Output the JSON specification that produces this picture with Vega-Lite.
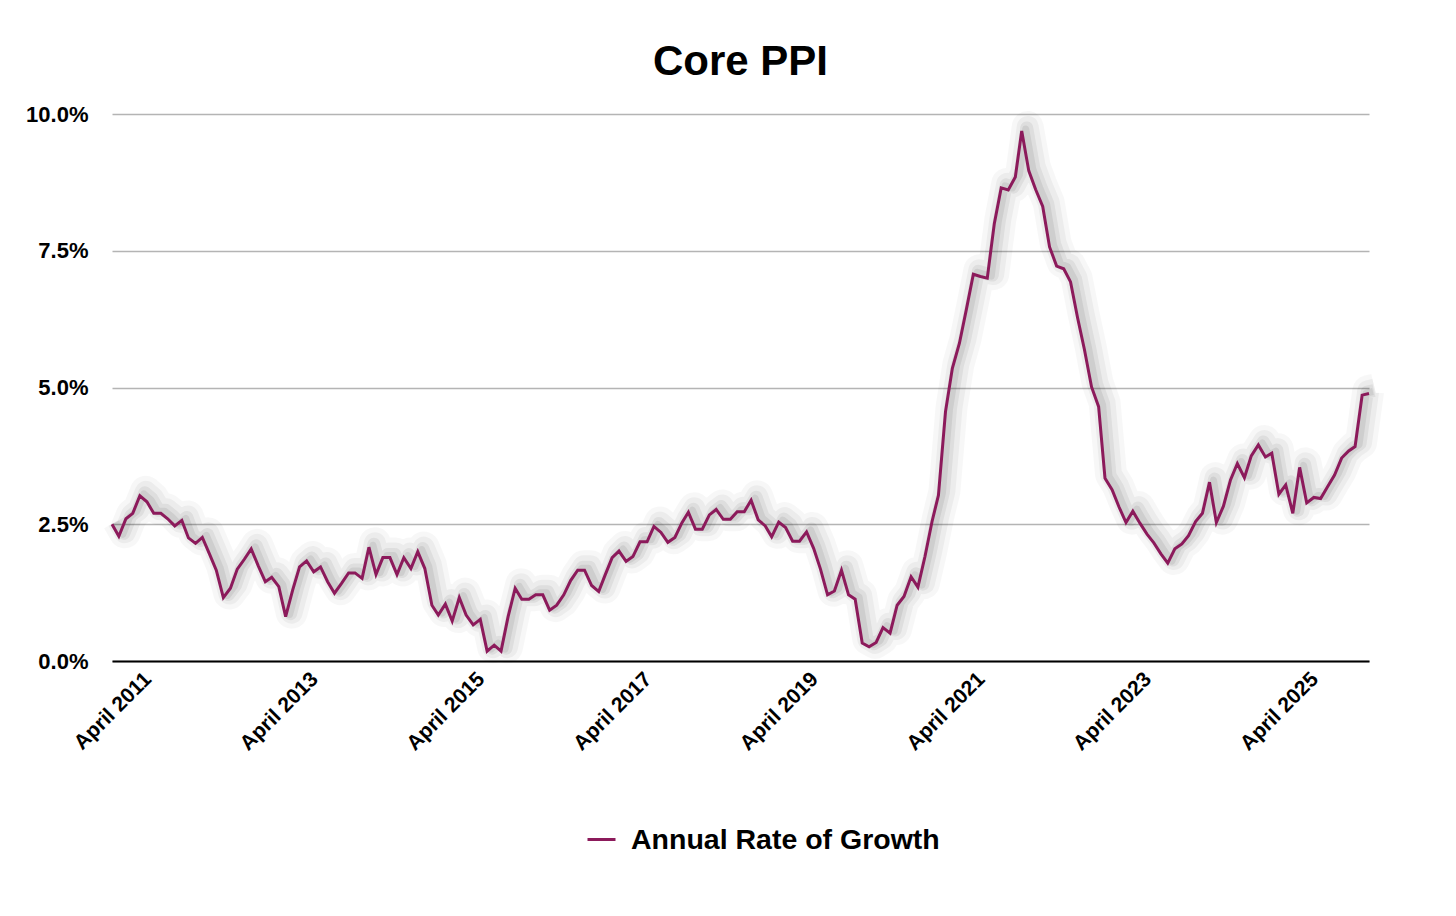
{
  "$schema": "https://vega.github.io/schema/vega-lite/v6.json",
  "width": 1257,
  "height": 547,
  "autosize": {"type": "none"},
  "padding": {"left": 112, "top": 114, "right": 87, "bottom": 255},
  "background": "white",
  "config": {
    "font": "Liberation Sans",
    "view": {"stroke": null}
  },
  "title": {
    "text": "Core PPI",
    "fontSize": 42,
    "fontWeight": "bold",
    "font": "Liberation Sans",
    "color": "black",
    "anchor": "middle",
    "offset": 19
  },
  "data": {
    "values": [
      {"date": "2011-04", "value": 2.50}, {"date": "2011-05", "value": 2.28}, {"date": "2011-06", "value": 2.60}, {"date": "2011-07", "value": 2.70}, {"date": "2011-08", "value": 3.02}, {"date": "2011-09", "value": 2.91}, {"date": "2011-10", "value": 2.70}, {"date": "2011-11", "value": 2.70}, {"date": "2011-12", "value": 2.60},
      {"date": "2012-01", "value": 2.47}, {"date": "2012-02", "value": 2.57}, {"date": "2012-03", "value": 2.25}, {"date": "2012-04", "value": 2.15}, {"date": "2012-05", "value": 2.26}, {"date": "2012-06", "value": 1.96}, {"date": "2012-07", "value": 1.66}, {"date": "2012-08", "value": 1.16}, {"date": "2012-09", "value": 1.33}, {"date": "2012-10", "value": 1.68}, {"date": "2012-11", "value": 1.86}, {"date": "2012-12", "value": 2.05},
      {"date": "2013-01", "value": 1.74}, {"date": "2013-02", "value": 1.45}, {"date": "2013-03", "value": 1.53}, {"date": "2013-04", "value": 1.36}, {"date": "2013-05", "value": 0.81}, {"date": "2013-06", "value": 1.30}, {"date": "2013-07", "value": 1.72}, {"date": "2013-08", "value": 1.83}, {"date": "2013-09", "value": 1.63}, {"date": "2013-10", "value": 1.72}, {"date": "2013-11", "value": 1.45}, {"date": "2013-12", "value": 1.24},
      {"date": "2014-01", "value": 1.42}, {"date": "2014-02", "value": 1.61}, {"date": "2014-03", "value": 1.61}, {"date": "2014-04", "value": 1.51}, {"date": "2014-05", "value": 2.08}, {"date": "2014-06", "value": 1.58}, {"date": "2014-07", "value": 1.89}, {"date": "2014-08", "value": 1.89}, {"date": "2014-09", "value": 1.58}, {"date": "2014-10", "value": 1.89}, {"date": "2014-11", "value": 1.69}, {"date": "2014-12", "value": 2.00},
      {"date": "2015-01", "value": 1.69}, {"date": "2015-02", "value": 1.02}, {"date": "2015-03", "value": 0.84}, {"date": "2015-04", "value": 1.04}, {"date": "2015-05", "value": 0.73}, {"date": "2015-06", "value": 1.16}, {"date": "2015-07", "value": 0.84}, {"date": "2015-08", "value": 0.66}, {"date": "2015-09", "value": 0.76}, {"date": "2015-10", "value": 0.18}, {"date": "2015-11", "value": 0.29}, {"date": "2015-12", "value": 0.18},
      {"date": "2016-01", "value": 0.81}, {"date": "2016-02", "value": 1.33}, {"date": "2016-03", "value": 1.13}, {"date": "2016-04", "value": 1.13}, {"date": "2016-05", "value": 1.21}, {"date": "2016-06", "value": 1.21}, {"date": "2016-07", "value": 0.93}, {"date": "2016-08", "value": 1.02}, {"date": "2016-09", "value": 1.21}, {"date": "2016-10", "value": 1.47}, {"date": "2016-11", "value": 1.66}, {"date": "2016-12", "value": 1.66},
      {"date": "2017-01", "value": 1.38}, {"date": "2017-02", "value": 1.27}, {"date": "2017-03", "value": 1.57}, {"date": "2017-04", "value": 1.89}, {"date": "2017-05", "value": 2.01}, {"date": "2017-06", "value": 1.82}, {"date": "2017-07", "value": 1.91}, {"date": "2017-08", "value": 2.18}, {"date": "2017-09", "value": 2.18}, {"date": "2017-10", "value": 2.46}, {"date": "2017-11", "value": 2.35}, {"date": "2017-12", "value": 2.17},
      {"date": "2018-01", "value": 2.26}, {"date": "2018-02", "value": 2.53}, {"date": "2018-03", "value": 2.72}, {"date": "2018-04", "value": 2.41}, {"date": "2018-05", "value": 2.41}, {"date": "2018-06", "value": 2.67}, {"date": "2018-07", "value": 2.77}, {"date": "2018-08", "value": 2.59}, {"date": "2018-09", "value": 2.59}, {"date": "2018-10", "value": 2.73}, {"date": "2018-11", "value": 2.73}, {"date": "2018-12", "value": 2.94},
      {"date": "2019-01", "value": 2.58}, {"date": "2019-02", "value": 2.47}, {"date": "2019-03", "value": 2.27}, {"date": "2019-04", "value": 2.54}, {"date": "2019-05", "value": 2.44}, {"date": "2019-06", "value": 2.19}, {"date": "2019-07", "value": 2.19}, {"date": "2019-08", "value": 2.36}, {"date": "2019-09", "value": 2.06}, {"date": "2019-10", "value": 1.68}, {"date": "2019-11", "value": 1.21}, {"date": "2019-12", "value": 1.28},
      {"date": "2020-01", "value": 1.66}, {"date": "2020-02", "value": 1.21}, {"date": "2020-03", "value": 1.13}, {"date": "2020-04", "value": 0.33}, {"date": "2020-05", "value": 0.26}, {"date": "2020-06", "value": 0.34}, {"date": "2020-07", "value": 0.61}, {"date": "2020-08", "value": 0.51}, {"date": "2020-09", "value": 1.02}, {"date": "2020-10", "value": 1.18}, {"date": "2020-11", "value": 1.54}, {"date": "2020-12", "value": 1.35},
      {"date": "2021-01", "value": 1.91}, {"date": "2021-02", "value": 2.55}, {"date": "2021-03", "value": 3.03}, {"date": "2021-04", "value": 4.56}, {"date": "2021-05", "value": 5.35}, {"date": "2021-06", "value": 5.81}, {"date": "2021-07", "value": 6.42}, {"date": "2021-08", "value": 7.07}, {"date": "2021-09", "value": 7.03}, {"date": "2021-10", "value": 7.00}, {"date": "2021-11", "value": 8.00}, {"date": "2021-12", "value": 8.65},
      {"date": "2022-01", "value": 8.61}, {"date": "2022-02", "value": 8.85}, {"date": "2022-03", "value": 9.69}, {"date": "2022-04", "value": 8.96}, {"date": "2022-05", "value": 8.62}, {"date": "2022-06", "value": 8.31}, {"date": "2022-07", "value": 7.57}, {"date": "2022-08", "value": 7.22}, {"date": "2022-09", "value": 7.17}, {"date": "2022-10", "value": 6.93}, {"date": "2022-11", "value": 6.27}, {"date": "2022-12", "value": 5.69},
      {"date": "2023-01", "value": 5.01}, {"date": "2023-02", "value": 4.65}, {"date": "2023-03", "value": 3.34}, {"date": "2023-04", "value": 3.13}, {"date": "2023-05", "value": 2.82}, {"date": "2023-06", "value": 2.53}, {"date": "2023-07", "value": 2.74}, {"date": "2023-08", "value": 2.52}, {"date": "2023-09", "value": 2.32}, {"date": "2023-10", "value": 2.16}, {"date": "2023-11", "value": 1.96}, {"date": "2023-12", "value": 1.79},
      {"date": "2024-01", "value": 2.05}, {"date": "2024-02", "value": 2.14}, {"date": "2024-03", "value": 2.29}, {"date": "2024-04", "value": 2.55}, {"date": "2024-05", "value": 2.70}, {"date": "2024-06", "value": 3.27}, {"date": "2024-07", "value": 2.53}, {"date": "2024-08", "value": 2.83}, {"date": "2024-09", "value": 3.31}, {"date": "2024-10", "value": 3.61}, {"date": "2024-11", "value": 3.35}, {"date": "2024-12", "value": 3.75},
      {"date": "2025-01", "value": 3.95}, {"date": "2025-02", "value": 3.73}, {"date": "2025-03", "value": 3.80}, {"date": "2025-04", "value": 3.05}, {"date": "2025-05", "value": 3.22}, {"date": "2025-06", "value": 2.70}, {"date": "2025-07", "value": 3.54}, {"date": "2025-08", "value": 2.89}, {"date": "2025-09", "value": 2.99}, {"date": "2025-10", "value": 2.97}, {"date": "2025-11", "value": 3.19}, {"date": "2025-12", "value": 3.40},
      {"date": "2026-01", "value": 3.71}, {"date": "2026-02", "value": 3.84}, {"date": "2026-03", "value": 3.92}, {"date": "2026-04", "value": 4.86}, {"date": "2026-05", "value": 4.89}
    ]
  },
  "encoding": {
    "x": {
      "field": "date",
      "type": "temporal",
      "scale": {"type": "utc", "nice": false},
      "axis": {
        "title": null,
        "values": [
          {"year": 2011, "month": 4, "date": 1, "utc": true},
          {"year": 2013, "month": 4, "date": 1, "utc": true},
          {"year": 2015, "month": 4, "date": 1, "utc": true},
          {"year": 2017, "month": 4, "date": 1, "utc": true},
          {"year": 2019, "month": 4, "date": 1, "utc": true},
          {"year": 2021, "month": 4, "date": 1, "utc": true},
          {"year": 2023, "month": 4, "date": 1, "utc": true},
          {"year": 2025, "month": 4, "date": 1, "utc": true}
        ],
        "labelExpr": "'April ' + utcFormat(datum.value, '%Y')",
        "labelAngle": -45,
        "labelAlign": "right",
        "labelBaseline": "top",
        "labelFont": "Liberation Sans",
        "labelFontSize": 21,
        "labelFontWeight": "bold",
        "labelColor": "black",
        "labelPadding": 7,
        "labelOffset": 28,
        "labelOverlap": false,
        "labelFlush": false,
        "ticks": false,
        "grid": false,
        "domain": true,
        "domainColor": "black",
        "domainWidth": 2
      }
    },
    "y": {
      "field": "value",
      "type": "quantitative",
      "scale": {"domain": [0, 10], "nice": false, "zero": true},
      "axis": {
        "title": null,
        "values": [0, 2.5, 5, 7.5, 10],
        "labelExpr": "format(datum.value, '.1f') + '%'",
        "labelFont": "Liberation Sans",
        "labelFontSize": 22,
        "labelFontWeight": "bold",
        "labelColor": "black",
        "labelPadding": 24,
        "ticks": false,
        "domain": false,
        "grid": true,
        "gridColor": "#b4b4b4",
        "gridWidth": 1.5
      }
    }
  },
  "layer": [
    {
      "mark": {"type": "line", "color": "black", "opacity": 0.03, "strokeWidth": 32, "xOffset": 6, "yOffset": -4, "strokeJoin": "round"}
    },
    {
      "mark": {"type": "line", "color": "black", "opacity": 0.045, "strokeWidth": 22, "xOffset": 6, "yOffset": -4, "strokeJoin": "round"}
    },
    {
      "mark": {"type": "line", "color": "black", "opacity": 0.06, "strokeWidth": 13, "xOffset": 5, "yOffset": -3, "strokeJoin": "round"}
    },
    {
      "mark": {"type": "line", "color": "black", "opacity": 0.07, "strokeWidth": 7, "xOffset": 4, "yOffset": -2, "strokeJoin": "round"}
    },
    {
      "mark": {"type": "line", "strokeWidth": 3, "strokeJoin": "miter"},
      "encoding": {
        "color": {
          "datum": "Annual Rate of Growth",
          "type": "nominal",
          "scale": {"range": ["#8c1a5b"]},
          "legend": {
            "title": null,
            "orient": "none",
            "legendX": 474,
            "legendY": 710,
            "padding": 0,
            "symbolType": "stroke",
            "symbolSize": 784,
            "symbolStrokeWidth": 3,
            "labelFont": "Liberation Sans",
            "labelFontSize": 28.5,
            "labelFontWeight": "bold",
            "labelColor": "black",
            "labelOffset": 14,
            "labelLimit": 600
          }
        }
      }
    }
  ]
}
